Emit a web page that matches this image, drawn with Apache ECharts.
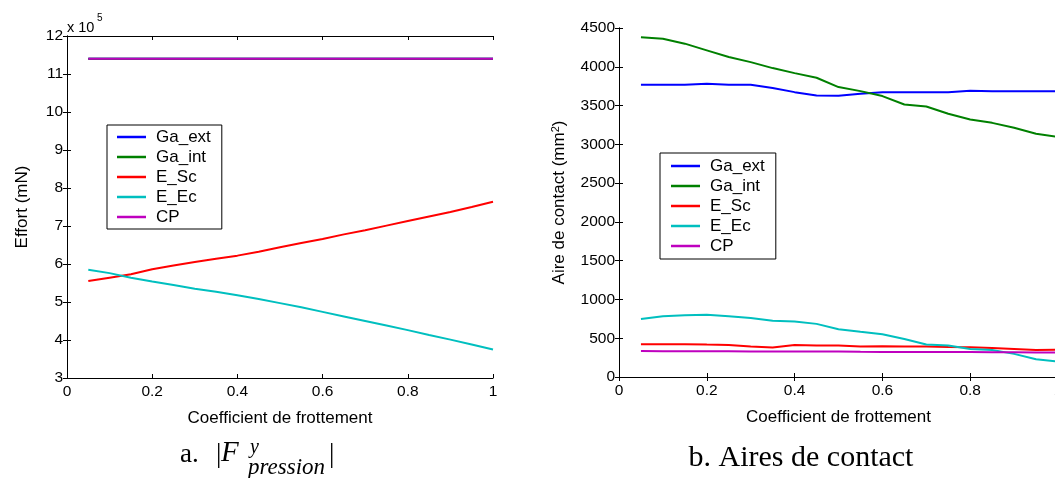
<!DOCTYPE html>
<html><head><meta charset="utf-8">
<script src="https://cdn.jsdelivr.net/npm/echarts@6/dist/echarts.min.js"></script>
<style>html,body{margin:0;padding:0;background:#fff}#c{width:1055px;height:478px}</style>
</head><body><div id="c"></div>
<script>
// ---- data ----
const coef = [0.05,0.10,0.15,0.20,0.25,0.30,0.35,0.40,0.45,0.50,0.55,0.60,0.65,0.70,0.75,0.80,0.85,0.90,0.95,1.00];
const seriesNames = ['Ga_ext','Ga_int','E_Sc','E_Ec','CP'];
const xTicks = [0,0.2,0.4,0.6,0.8,1];
// left chart: effort (x 10^5 mN)
const effGaExt = [11.4,11.4,11.4,11.4,11.4,11.4,11.4,11.4,11.4,11.4,11.4,11.4,11.4,11.4,11.4,11.4,11.4,11.4,11.4,11.4];
const effGaInt = [11.4,11.4,11.4,11.4,11.4,11.4,11.4,11.4,11.4,11.4,11.4,11.4,11.4,11.4,11.4,11.4,11.4,11.4,11.4,11.4];
const effESc = [5.55,5.64,5.73,5.86,5.96,6.05,6.14,6.22,6.32,6.44,6.55,6.66,6.78,6.89,7.01,7.13,7.25,7.37,7.50,7.64];
const effEEc = [5.85,5.76,5.64,5.54,5.45,5.35,5.27,5.18,5.08,4.97,4.86,4.74,4.62,4.50,4.38,4.26,4.13,4.01,3.88,3.75];
const effCP = [11.4,11.4,11.4,11.4,11.4,11.4,11.4,11.4,11.4,11.4,11.4,11.4,11.4,11.4,11.4,11.4,11.4,11.4,11.4,11.4];
// right chart: contact areas (mm^2)
const airGaExt = [3768,3768,3768,3780,3768,3768,3725,3673,3630,3626,3652,3673,3673,3673,3670,3690,3686,3686,3686,3686];
const airGaInt = [4380,4362,4298,4212,4126,4060,3983,3918,3858,3738,3686,3622,3514,3488,3394,3320,3277,3213,3137,3095];
const airESc = [423,423,423,418,414,393,380,414,405,405,393,397,393,393,388,384,375,362,349,350];
const airEEc = [749,783,796,804,783,762,724,715,685,616,582,552,491,418,405,362,349,298,228,200];
const airCP = [335,333,332,331,331,330,330,330,330,330,325,322,322,322,322,322,320,318,316,315];

const colors = ['#0000ff','#008000','#ff0000','#00bfbf','#bf00bf'];
const SANS = 'Liberation Sans';

function mk(arr){ return coef.map((x,i)=>[x,arr[i]]); }

function xAxes(gi){
  return [
    {gridIndex:gi,type:'value',min:0,max:1,interval:0.2,position:'bottom',
     name:'Coefficient de frottement',nameLocation:'middle',nameGap:32,
     nameTextStyle:{fontFamily:SANS,fontSize:17,color:'#000'},
     axisLine:{lineStyle:{color:'#000',width:1}},
     axisTick:{inside:true,length:4,lineStyle:{color:'#000'}},
     axisLabel:{fontFamily:SANS,fontSize:15.5,color:'#000',margin:6,formatter:v=>String(v)},
     splitLine:{show:false}},
    {gridIndex:gi,type:'value',min:0,max:1,interval:0.2,position:'top',
     axisLine:{lineStyle:{color:'#000',width:1}},
     axisTick:{inside:true,length:4,lineStyle:{color:'#000'}},
     axisLabel:{show:false},splitLine:{show:false}}
  ];
}
function yAxes(gi,min,max,interval,name,gap){
  return [
    {gridIndex:gi,type:'value',min:min,max:max,interval:interval,position:'left',
     name:name,nameLocation:'middle',nameGap:gap,
     nameTextStyle:{fontFamily:SANS,fontSize:17,color:'#000',
       rich:{n:{fontFamily:SANS,fontSize:17,color:'#000'},s:{fontFamily:SANS,fontSize:11,color:'#000',verticalAlign:'top',padding:[0,0,8,0]}}},
     axisLine:{lineStyle:{color:'#000',width:1}},
     axisTick:{inside:true,length:4,lineStyle:{color:'#000'}},
     axisLabel:{fontFamily:SANS,fontSize:15.5,color:'#000',margin:4,formatter:v=>String(v)},
     splitLine:{show:false}},
    {gridIndex:gi,type:'value',min:min,max:max,interval:interval,position:'right',
     axisLine:{lineStyle:{color:'#000',width:1}},
     axisTick:{inside:true,length:4,lineStyle:{color:'#000'}},
     axisLabel:{show:false},splitLine:{show:false}}
  ];
}

const leftData = [effGaExt,effGaInt,effESc,effEEc,effCP];
const rightData = [airGaExt,airGaInt,airESc,airEEc,airCP];
const series = [];
seriesNames.forEach((n,i)=>{
  series.push({name:n,type:'line',xAxisIndex:0,yAxisIndex:0,data:mk(leftData[i]),
    symbol:'none',showSymbol:false,smooth:false,lineStyle:{color:colors[i],width:2},itemStyle:{color:colors[i]},animation:false});
});
seriesNames.forEach((n,i)=>{
  series.push({name:n,type:'line',xAxisIndex:2,yAxisIndex:2,data:mk(rightData[i]),
    symbol:'none',showSymbol:false,smooth:false,lineStyle:{color:colors[i],width:2},itemStyle:{color:colors[i]},animation:false});
});

function legend(left,top,padding){
  return {data:seriesNames.map(n=>({name:n,icon:'rect'})),orient:'vertical',left:left,top:top,padding:padding,
    itemGap:0,itemWidth:29,itemHeight:2.5,
    borderColor:'#000',borderWidth:1,borderRadius:0,backgroundColor:'#fff',
    selectedMode:false,
    textStyle:{fontFamily:SANS,fontSize:17,color:'#000',lineHeight:20,padding:[0,0,0,5]}};
}

const chart = echarts.init(document.getElementById('c'),null,{renderer:'canvas'});
chart.setOption({
  animation:false,
  backgroundColor:'#fff',
  grid:[
    {left:67,top:36,width:426,height:342,outerBoundsMode:'none',containLabel:false},
    {left:619,top:28,width:439,height:349,outerBoundsMode:'none',containLabel:false}
  ],
  xAxis:[...xAxes(0),...xAxes(1)],
  yAxis:[...yAxes(0,3,12,1,'Effort (mN)',36),
         ...yAxes(1,0,4500,500,'{n|Aire de contact (mm}{s|2}{n|)}',50)],
  legend:[legend(107,125,[2,11,2,10]),legend(660,153,[3,11,3,11])],
  series:series,
  graphic:[
    {type:'text',left:67,top:20,style:{text:'x 10',font:'14.5px "Liberation Sans"',fill:'#000'}},
    {type:'text',left:97,top:13,style:{text:'5',font:'10px "Liberation Sans"',fill:'#000'}},
    {type:'text',x:180,y:468,style:{text:'a.',font:'27px "Liberation Serif"',fill:'#000',verticalAlign:'bottom'}},
    {type:'text',x:216,y:468,style:{text:'|',font:'27px "Liberation Serif"',fill:'#000',verticalAlign:'bottom'}},
    {type:'text',x:221,y:468,style:{text:'F',font:'italic 29px "Liberation Serif"',fill:'#000',verticalAlign:'bottom'}},
    {type:'text',x:250,y:458,style:{text:'y',font:'italic 20px "Liberation Serif"',fill:'#000',verticalAlign:'bottom'}},
    {type:'text',x:248,y:479,style:{text:'pression',font:'italic 23px "Liberation Serif"',fill:'#000',verticalAlign:'bottom'}},
    {type:'text',x:329,y:468,style:{text:'|',font:'27px "Liberation Serif"',fill:'#000',verticalAlign:'bottom'}},
    {type:'text',x:801,y:473,style:{text:'b. Aires de contact',font:'30px "Liberation Serif"',fill:'#000',align:'center',verticalAlign:'bottom'}}
  ]
});
</script></body></html>
